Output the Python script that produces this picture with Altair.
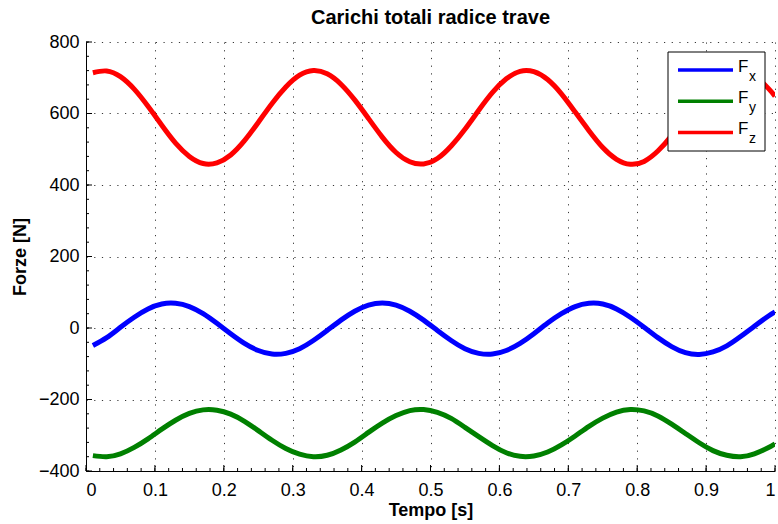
import altair as alt
import pandas as pd

# ---- data ----
T = [0.01, 0.03, 0.05, 0.07, 0.09, 0.11, 0.13, 0.15, 0.17, 0.19,
     0.21, 0.23, 0.25, 0.27, 0.29, 0.31, 0.33, 0.35, 0.37, 0.39,
     0.41, 0.43, 0.45, 0.47, 0.49, 0.51, 0.53, 0.55, 0.57, 0.59,
     0.61, 0.63, 0.65, 0.67, 0.69, 0.71, 0.73, 0.75, 0.77, 0.79,
     0.81, 0.83, 0.85, 0.87, 0.89, 0.91, 0.93, 0.95, 0.97, 0.99, 1.0]

FX = [-49, -27, 2, 30, 53, 67, 69, 60, 40, 13,
      -16, -43, -63, -73, -71, -58, -35, -7, 22, 47,
      64, 70, 64, 47, 22, -7, -35, -58, -71, -73,
      -63, -43, -16, 14, 40, 60, 69, 67, 53, 30,
      2, -27, -52, -69, -74, -67, -50, -24, 5, 33, 45]

FY = [-357, -360, -352, -334, -310, -283, -258, -239, -229, -230,
      -241, -261, -287, -314, -337, -353, -360, -356, -341, -319,
      -292, -266, -245, -231, -228, -236, -253, -278, -304, -329,
      -349, -359, -358, -347, -327, -302, -275, -252, -235, -228,
      -232, -246, -269, -295, -321, -343, -356, -360, -352, -335, -324]

FZ = [714, 719, 703, 668, 620, 567, 517, 480, 460, 462,
      484, 524, 575, 628, 674, 707, 720, 711, 682, 638,
      586, 534, 491, 465, 459, 474, 509, 556, 609, 659,
      697, 718, 717, 695, 655, 604, 552, 505, 472, 458,
      466, 495, 538, 591, 643, 686, 713, 720, 705, 671, 648]

SERIES = ["Fx", "Fy", "Fz"]
SUBS = ["x", "y", "z"]
COLORS = ["#0000FF", "#008000", "#FF0000"]

X_MAJOR = [0, 0.1, 0.2, 0.3, 0.4, 0.5, 0.6, 0.7, 0.8, 0.9, 1.0]
Y_MAJOR = [-400, -200, 0, 200, 400, 600, 800]
X_MINOR = [i / 50 for i in range(51)]
Y_MINOR = list(range(-400, 801, 40))

FONT = "Liberation Sans"
W, H = 689, 429

df = pd.DataFrame({
    "t": T * 3,
    "v": FX + FY + FZ,
    "s": ["Fx"] * len(T) + ["Fy"] * len(T) + ["Fz"] * len(T),
})

xs = alt.Scale(domain=[0, 1], nice=False, zero=False)
ys = alt.Scale(domain=[-400, 800], nice=False, zero=False)
XAX = alt.Axis(values=X_MAJOR, title="Tempo [s]", ticks=False, grid=True, format="~g",
               labelPadding=10, titlePadding=2)
YAX = alt.Axis(values=Y_MAJOR, title="Forze [N]", ticks=False, grid=True,
               labelPadding=7, titlePadding=9)


def X(**kw):
    return alt.X("t:Q", scale=xs, axis=XAX, **kw)


def Y(**kw):
    return alt.Y("v:Q", scale=ys, axis=YAX, **kw)


lines = alt.Chart(df).mark_line(strokeWidth=5, clip=True, interpolate="natural").encode(
    x=X(), y=Y(),
    color=alt.Color("s:N", scale=alt.Scale(domain=SERIES, range=COLORS), legend=None),
    detail="s:N",
)

ytick_major = alt.Chart(pd.DataFrame({"v": Y_MAJOR})).mark_rule(color="black", strokeWidth=1).encode(
    y=Y(), x=alt.value(0), x2=alt.value(6))
ytick_minor = alt.Chart(pd.DataFrame({"v": Y_MINOR})).mark_rule(color="black", strokeWidth=1).encode(
    y=Y(), x=alt.value(0), x2=alt.value(3))
xtick_major = alt.Chart(pd.DataFrame({"t": X_MAJOR})).mark_rule(color="black", strokeWidth=1).encode(
    x=X(), y=alt.value(H), y2=alt.value(H - 6))
xtick_minor = alt.Chart(pd.DataFrame({"t": X_MINOR})).mark_rule(color="black", strokeWidth=1).encode(
    x=X(), y=alt.value(H), y2=alt.value(H - 3))

one = pd.DataFrame({"a": [0]})
legend_layers = [
    alt.Chart(one).mark_rect(fill="white", stroke="black", strokeWidth=1).encode(
        x=alt.value(582), x2=alt.value(679), y=alt.value(10), y2=alt.value(109))
]
for i, (sub, col) in enumerate(zip(SUBS, COLORS)):
    yy = 28 + 31.2 * i
    legend_layers.append(alt.Chart(one).mark_rule(color=col, strokeWidth=3.5).encode(
        x=alt.value(592), x2=alt.value(647), y=alt.value(yy)))
    legend_layers.append(alt.Chart(one).mark_text(
        text="F", font=FONT, fontSize=17, align="left", baseline="middle", color="black").encode(
        x=alt.value(652), y=alt.value(yy - 3.5)))
    legend_layers.append(alt.Chart(one).mark_text(
        text=sub, font=FONT, fontSize=14, align="left", baseline="middle", color="black").encode(
        x=alt.value(663), y=alt.value(yy + 7)))

chart = alt.layer(
    lines, ytick_minor, ytick_major, xtick_minor, xtick_major, *legend_layers
).properties(
    width=W, height=H,
    background="white",
    title=alt.TitleParams("Carichi totali radice trave", font=FONT, fontSize=20,
                          fontWeight="bold", color="black", anchor="middle", offset=5),
    padding={"left": 86, "top": 42, "right": 3, "bottom": 53},
    autosize=alt.AutoSizeParams(type="none"),
).configure_view(stroke=None).configure_axis(
    labelFont=FONT, labelFontSize=18, labelColor="black",
    titleFont=FONT, titleFontSize=18, titleFontWeight="bold", titleColor="black",
    domainColor="black", domainWidth=1,
    gridColor="#222222", gridWidth=1, gridDash=[1.2, 6.5], gridOpacity=0.9,
)

chart.save("out.html", embed_options={"renderer": "svg", "actions": False})
